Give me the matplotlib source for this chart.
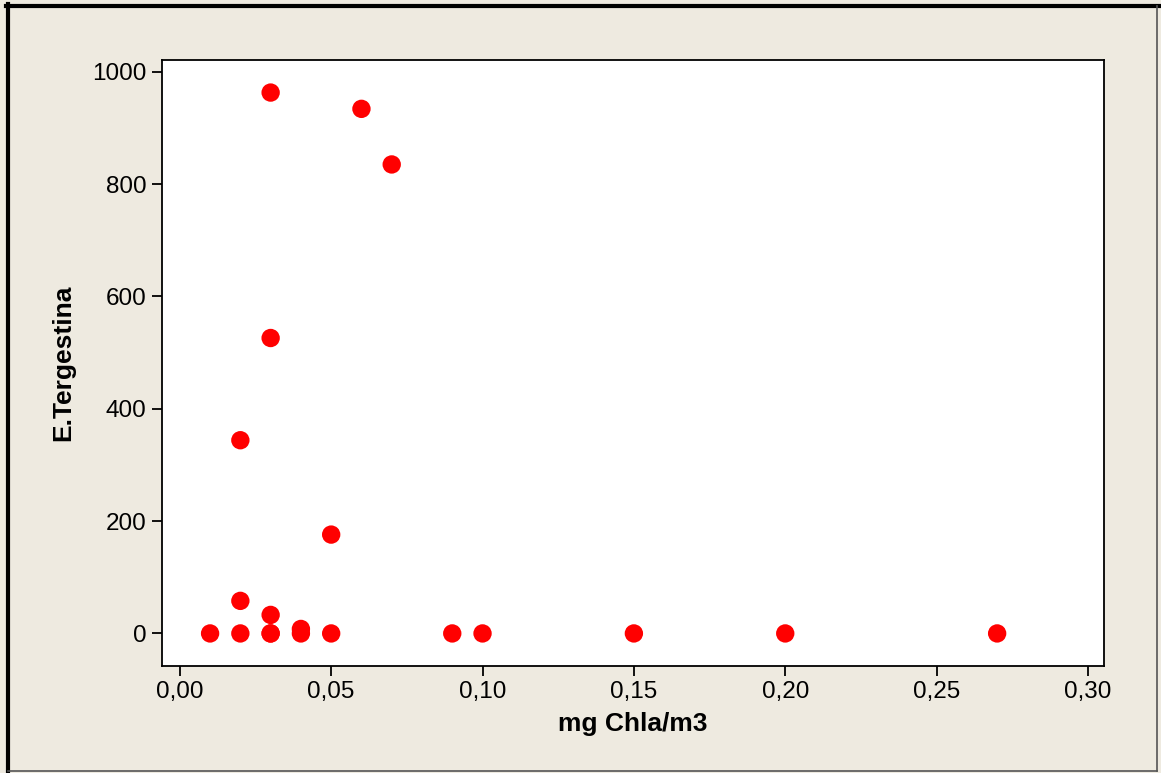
import matplotlib.pyplot as plt
from matplotlib.lines import Line2D
from matplotlib.ticker import FuncFormatter

# data
chla = [0.01, 0.02, 0.02, 0.02, 0.03, 0.03, 0.03, 0.03, 0.03, 0.04,
        0.04, 0.05, 0.05, 0.06, 0.07, 0.09, 0.10, 0.15, 0.20, 0.27]
tergestina = [0, 0, 58, 344, 0, 0, 33, 526, 963, 0,
              8, 0, 176, 934, 835, 0, 0, 0, 0, 0]
xticks = [0.00, 0.05, 0.10, 0.15, 0.20, 0.25, 0.30]
yticks = [0, 200, 400, 600, 800, 1000]

plt.rcParams['font.family'] = ['Liberation Sans', 'DejaVu Sans']

bg = '#EEEAE0'
fig = plt.figure(figsize=(11.61, 7.73), dpi=100, facecolor=bg)
ax = fig.add_axes([0.1395, 0.1384, 0.8114, 0.784])
ax.set_facecolor('white')

ax.scatter(chla, tergestina, s=175, color='#FF0000', edgecolors='none', zorder=3)

ax.set_xlim(-0.0059, 0.3053)
ax.set_ylim(-58, 1021)
ax.set_xticks(xticks)
ax.set_yticks(yticks)
ax.xaxis.set_major_formatter(FuncFormatter(lambda v, p: f'{v:.2f}'.replace('.', ',')))
ax.tick_params(labelsize=17.5, length=7, width=1.3, color='black', pad=4)

for s in ax.spines.values():
    s.set_linewidth(1.3)

ax.set_xlabel('mg Chla/m3', fontsize=19, fontweight='bold', labelpad=6)
ax.set_ylabel('E.Tergestina', fontsize=19, fontweight='bold', labelpad=12)

# frame around the figure
W, H = 1161, 773
fig.add_artist(Line2D([7.5 / W, 7.5 / W], [0, 1 - 4 / H], color='black', lw=3, transform=fig.transFigure))
fig.add_artist(Line2D([6 / W, 1], [1 - 5.5 / H, 1 - 5.5 / H], color='black', lw=3, transform=fig.transFigure))
fig.add_artist(Line2D([1157 / W, 1157 / W], [2 / H, 1 - 5.5 / H], color='#555555', lw=1.2, transform=fig.transFigure))
fig.add_artist(Line2D([7.5 / W, 1157 / W], [2 / H, 2 / H], color='#555555', lw=1.2, transform=fig.transFigure))

plt.savefig('out.png', dpi=100, facecolor=bg)
